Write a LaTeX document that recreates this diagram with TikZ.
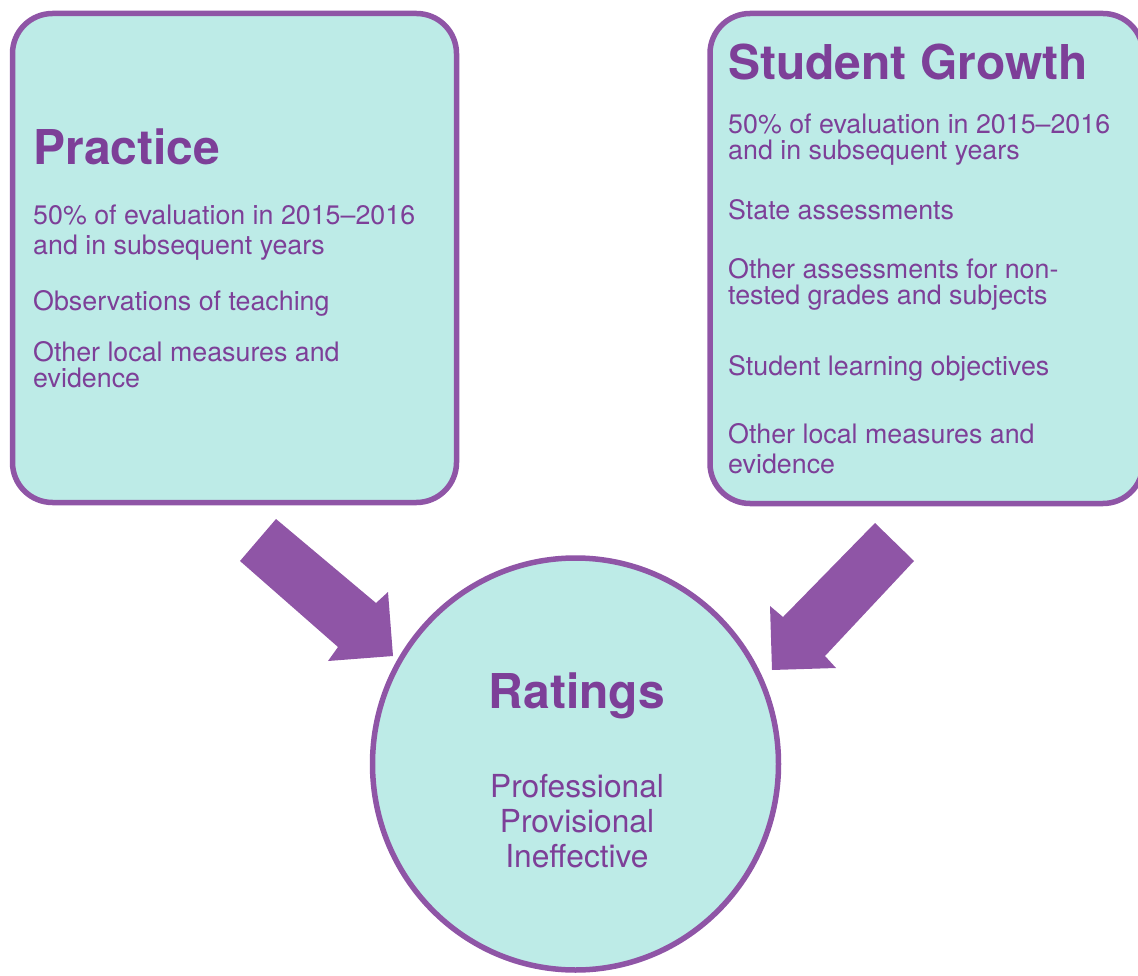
\documentclass[tikz,border=0pt]{standalone}
\usepackage{fontspec}
\setmainfont{TeX Gyre Heros}
\usetikzlibrary{shapes.geometric}
\definecolor{tealfill}{HTML}{BDEBE7}
\definecolor{purpleline}{HTML}{8F55A6}
\definecolor{purpletext}{HTML}{7D3F98}

\begin{document}
\begin{tikzpicture}[x=1pt, y=-1pt,
    panel/.style={rectangle, draw=purpleline, fill=tealfill, line width=5.5pt, rounded corners=40pt},
    ratebox/.style={ellipse, draw=purpleline, fill=tealfill, line width=5.5pt},
    headtext/.style={anchor=base west, inner sep=0pt, text=purpletext, font=\fontsize{48}{52}\selectfont\bfseries},
    itemtext/.style={anchor=base west, inner sep=0pt, text=purpletext, align=left, font=\fontsize{26.8}{29}\selectfont},
    bigarrow/.style={fill=purpleline, draw=none}
]
\useasboundingbox (0,0) rectangle (1138,976);

% the two input panels and the rating circle
\node[panel, minimum width=444pt, minimum height=489pt] at (234.5,258) (practice) {};
\node[panel, minimum width=433pt, minimum height=490pt] at (926.5,258.5) (growth) {};
\node[ratebox, minimum width=406pt, minimum height=412pt] at (575.5,764) (ratings) {};

% block arrows
\fill[bigarrow] (276,519) -- (376,603) -- (388,592) -- (393,656) -- (328,661) -- (338,647) -- (240,561) -- cycle;
\fill[bigarrow] (875,523) -- (914,561) -- (825,656) -- (836,668) -- (772,670) -- (770,606) -- (783,617) -- cycle;

% practice text (multi-line nodes sit on their last baseline)
\node[headtext] at (33,165) (practicetitle) {Practice};
\node[itemtext] at (33,255) (practiceshare) {50\% of evaluation in 2015--2016\\[1pt]and in subsequent years};
\node[itemtext] at (33,311) (practiceobs) {Observations of teaching};
\node[itemtext] at (33,387) (practicelocal) {Other local measures and\\[-3pt]evidence};

% student growth text
\node[headtext] at (728,80) (growthtitle) {Student Growth};
\node[itemtext] at (728,160) (growthshare) {50\% of evaluation in 2015--2016\\[-3pt]and in subsequent years};
\node[itemtext] at (728,220) (growthstate) {State assessments};
\node[itemtext] at (728,305) (growthother) {Other assessments for non-\\[-3pt]tested grades and subjects};
\node[itemtext] at (728,375) (growthslo) {Student learning objectives};
\node[itemtext] at (728,473) (growthlocal) {Other local measures and\\[1pt]evidence};

% ratings text
\node[headtext, anchor=base] at (577,708) (ratingstitle) {Ratings};
\node[itemtext, anchor=base, align=center, font=\fontsize{31.7}{35}\selectfont] at (577,867) (ratinglist) {Professional\\Provisional\\Ineffective};
\end{tikzpicture}
\end{document}
